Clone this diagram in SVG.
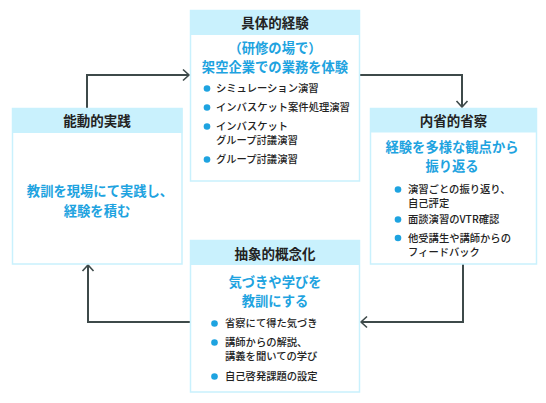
<svg xmlns="http://www.w3.org/2000/svg" width="546" height="403" viewBox="0 0 546 403">
<defs>
<style>
text{font-family:"Noto Sans CJK JP","Noto Sans",sans-serif;}
.box{fill:#ffffff;stroke:#c9f1fd;stroke-width:1.5;}
.hdr{fill:#c9f1fd;}
.ht{font-size:13.5px;font-weight:bold;fill:#222222;text-anchor:middle;}
.st{font-size:13.3px;font-weight:bold;fill:#1ea3e0;text-anchor:middle;}
.bt{font-size:10.3px;font-weight:500;fill:#222222;}
.dot{fill:#1ea3e0;}
.con{fill:none;stroke:#3e4a4a;stroke-width:2;}
</style>
<marker id="arr" markerUnits="userSpaceOnUse" markerWidth="14" markerHeight="14" refX="9" refY="7" orient="auto">
<path d="M3,1.5 L9,7 L3,12.5" fill="none" stroke="#3e4a4a" stroke-width="1.6"/>
</marker>
</defs>
<rect width="546" height="403" fill="#ffffff"/>
<g id="connectors">
<path class="con" d="M87,108 V75 H189" marker-end="url(#arr)"/>
<path class="con" d="M360,75 H462 V107" marker-end="url(#arr)"/>
<path class="con" d="M463,264 V322 H361" marker-end="url(#arr)"/>
<path class="con" d="M190,322 H88 V265" marker-end="url(#arr)"/>
</g>
<g id="node-concrete">
<rect class="box" x="190.5" y="10.5" width="169" height="170.5"/>
<rect class="hdr" x="190" y="10" width="170" height="25"/>
<text class="ht" x="275" y="28">具体的経験</text>
<text class="st" x="275" y="53">（研修の場で）</text>
<text class="st" x="275" y="72">架空企業での業務を体験</text>
<circle class="dot" cx="207" cy="88.5" r="3.3"/>
<text class="bt" x="216" y="92">シミュレーション演習</text>
<circle class="dot" cx="207" cy="107.5" r="3.3"/>
<text class="bt" x="216" y="111">インバスケット案件処理演習</text>
<circle class="dot" cx="207" cy="126.5" r="3.3"/>
<text class="bt" x="216" y="130">インバスケット</text>
<text class="bt" x="216" y="144">グループ討議演習</text>
<circle class="dot" cx="207" cy="159.5" r="3.3"/>
<text class="bt" x="216" y="163">グループ討議演習</text>
</g>
<g id="node-reflective">
<rect class="box" x="370.5" y="108.5" width="166" height="155.5"/>
<rect class="hdr" x="370" y="108" width="167" height="24.5"/>
<text class="ht" x="453.5" y="125.5">内省的省察</text>
<text class="st" x="452" y="152">経験を多様な観点から</text>
<text class="st" x="452" y="171">振り返る</text>
<circle class="dot" cx="398" cy="189.5" r="3.3"/>
<text class="bt" x="408" y="193">演習ごとの振り返り、</text>
<text class="bt" x="408" y="206.5">自己評定</text>
<circle class="dot" cx="398" cy="219.5" r="3.3"/>
<text class="bt" x="408" y="223">面談演習のVTR確認</text>
<circle class="dot" cx="398" cy="238" r="3.3"/>
<text class="bt" x="408" y="241.5">他受講生や講師からの</text>
<text class="bt" x="408" y="255.5">フィードバック</text>
</g>
<g id="node-active">
<rect class="box" x="12.5" y="108.5" width="169.5" height="155.5"/>
<rect class="hdr" x="12" y="108" width="170.5" height="25"/>
<text class="ht" x="97" y="125.5">能動的実践</text>
<text class="st" x="100" y="196">教訓を現場にて実践し、</text>
<text class="st" x="97" y="216">経験を積む</text>
</g>
<g id="node-abstract">
<rect class="box" x="190.5" y="240.5" width="169" height="151.5"/>
<rect class="hdr" x="190" y="240" width="170" height="25"/>
<text class="ht" x="275" y="259">抽象的概念化</text>
<text class="st" x="275" y="287">気づきや学びを</text>
<text class="st" x="275" y="306">教訓にする</text>
<circle class="dot" cx="214.5" cy="323.5" r="3.3"/>
<text class="bt" x="225" y="327">省察にて得た気づき</text>
<circle class="dot" cx="214.5" cy="342.5" r="3.3"/>
<text class="bt" x="225" y="346">講師からの解説、</text>
<text class="bt" x="225" y="359.5">講義を聞いての学び</text>
<circle class="dot" cx="214.5" cy="376.5" r="3.3"/>
<text class="bt" x="225" y="380">自己啓発課題の設定</text>
</g>
</svg>
